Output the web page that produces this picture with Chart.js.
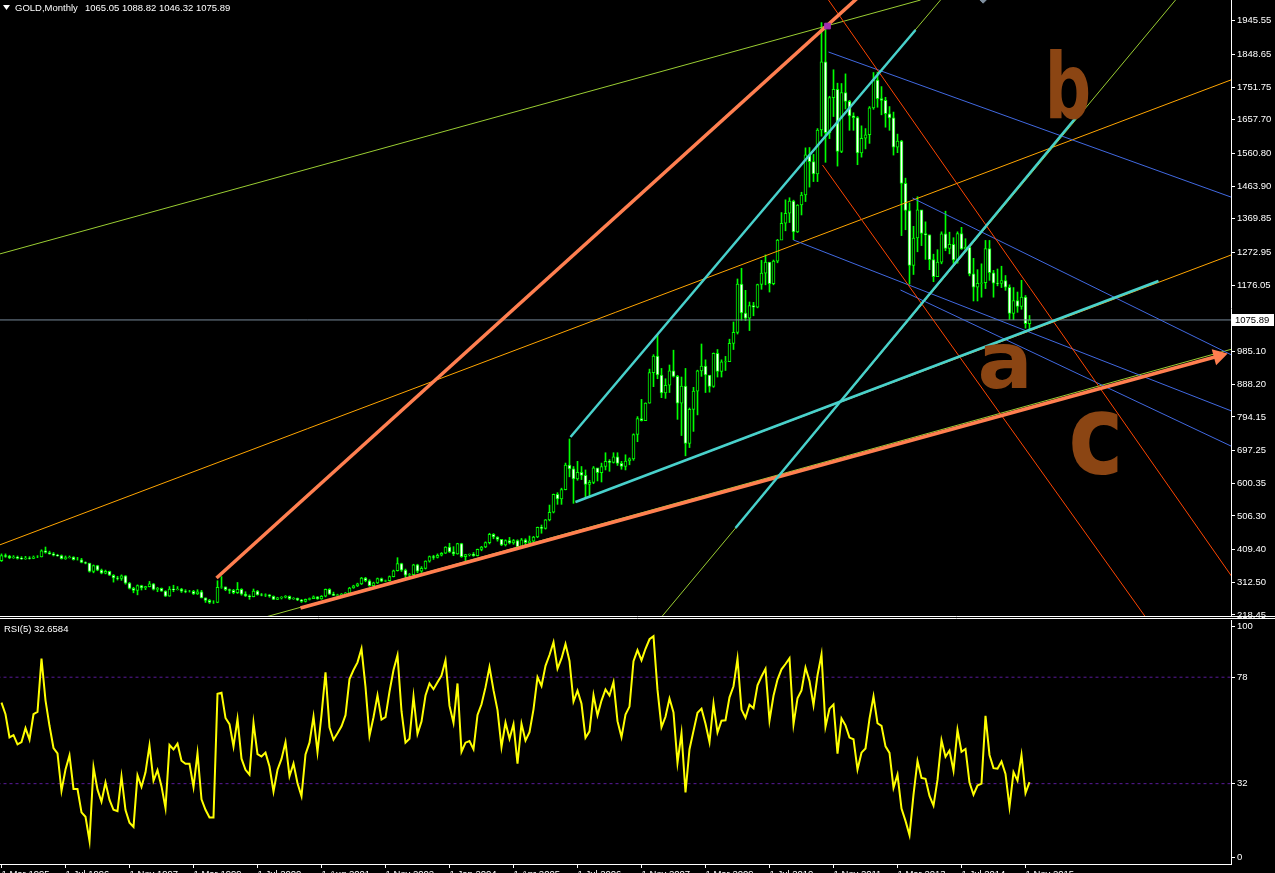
<!DOCTYPE html>
<html>
<head>
<meta charset="utf-8">
<script src="https://cdn.jsdelivr.net/npm/chart.js@4.4.1/dist/chart.umd.min.js"></script>
<style>
html, body { margin: 0; padding: 0; background: #000; overflow: hidden; width: 1275px; height: 873px; }
#main { position: absolute; left: 0; top: 0; }
#rsi { position: absolute; left: 0; top: 617px; }
</style>
</head>
<body>
<canvas id="main" width="1275" height="626"></canvas>
<canvas id="rsi" width="1275" height="280"></canvas>
<script>
// monthly bars, index 0 = 1 Mar 1995
var opens = [376,391,389,385,387,383,382,384,383,387,
387,405,400,396,392,391,382,385,387,379,379,371,
369,345,362,349,340,345,334,326,325,332,311,296,
290,304,297,301,309,293,296,288,273,294,292,294,
288,287,287,280,286,268,261,255,255,299,300,292,
290,283,293,279,274,272,
288,277,276,277,273,264,268,270,273,265,267,262,258,264,266,271,
265,273,293,279,275,277,279,282,297,303,309,326,318,304,312,324,
317,318,330,347,368,349,334,336,364,346,354,375,388,386,392,398,
416,402,396,426,388,394,395,391,409,416,429,453,445,438,422,435,
428,435,417,437,429,433,445,473,470,495,517,569,556,583,654,643,
614,633,624,598,604,646,
632,650,665,662,678,659,650,666,672,743,789,783,
834,923,971,916,864,886,928,912,834,884,717,816,
869,928,942,916,883,979,926,954,955,1008,1040,1180,
1096,1081,1118,1113,1179,1212,1244,1181,1247,1308,1357,1386,
1421,1332,1410,1439,1556,1536,1500,1628,1826,1620,1722,1746,
1566,1737,1711,1669,1664,1561,1604,1614,1692,1773,1719,1714,
1675,1663,1578,1596,1473,1394,1234,1314,1396,1327,1323,1251,
1202,1244,1326,1284,1296,1250,1327,1282,1287,1210,1171,1182,
1184,1283,1213,1183,1182,1190,1171,1095,1132,1115,1142,1065.05];

var highs = [396,396,392,391,390,388,389,388,390,391,
408,416,404,400,395,393,390,390,388,386,383,373,
369,364,363,352,349,346,336,331,335,333,313,299,
306,305,302,316,310,299,297,289,301,305,301,296,
292,290,290,292,290,268,264,260,318,330,300,294,
293,313,295,286,277,294,
290,281,280,278,274,270,272,275,274,269,268,264,265,268,274,272,
275,294,295,285,279,281,284,299,305,311,328,328,321,314,326,326,
320,332,349,385,369,352,339,366,366,359,376,390,392,396,400,417,
427,417,427,427,395,396,400,410,418,431,456,455,446,438,437,444,
438,437,441,440,448,447,474,480,496,538,570,574,587,660,730,650,
665,650,640,610,650,645,
660,690,670,690,690,665,684,675,745,795,845,835,
933,975,1033,935,905,945,988,915,910,935,820,880,
930,1006,960,915,980,990,960,970,1020,1070,1195,1226,
1162,1128,1127,1180,1249,1265,1202,1250,1310,1388,1425,1431,
1424,1411,1447,1576,1577,1557,1632,1940,1920,1726,1803,1764,
1763,1791,1714,1678,1667,1640,1632,1696,1795,1796,1754,1723,
1696,1680,1616,1598,1488,1416,1348,1434,1361,1361,1323,1267,
1280,1332,1392,1331,1315,1332,1345,1312,1288,1255,1222,1239,
1307,1307,1220,1224,1232,1205,1178,1170,1157,1191,1147,1088.82];

var lows = [374,386,382,383,381,380,380,381,382,385,
387,398,395,390,389,381,380,384,378,378,370,367,
343,341,347,338,338,333,314,320,319,308,294,283,
277,291,292,300,291,286,287,272,273,286,291,284,
283,285,278,278,268,255,252,252,254,296,289,281,
280,281,276,272,264,271,
276,274,272,270,263,263,265,268,263,264,260,255,256,262,266,264,
264,271,278,275,273,276,277,281,296,301,307,315,302,303,310,315,
315,317,329,346,345,327,324,335,341,342,352,372,380,384,390,397,
400,391,395,386,375,390,389,390,405,414,425,440,433,420,419,425,
424,414,414,418,425,430,443,456,468,492,515,540,540,582,620,543,
610,612,560,560,600,608,
605,640,636,660,653,642,640,655,668,722,782,784,
834,882,905,850,848,865,910,787,740,681,705,752,
800,912,865,866,880,910,910,929,955,990,1035,1075,
1074,1045,1088,1111,1165,1178,1157,1178,1242,1315,1335,1359,
1309,1330,1381,1420,1462,1478,1478,1610,1534,1603,1667,1523,
1562,1689,1627,1627,1527,1549,1573,1589,1688,1694,1672,1636,
1627,1555,1562,1321,1338,1180,1208,1274,1292,1252,1222,1187,
1202,1239,1277,1268,1240,1241,1281,1275,1204,1131,1131,1142,
1167,1191,1142,1175,1170,1162,1077,1077,1098,1107,1052,1046.32];

var closes = [391,389,385,387,383,382,384,383,387,387,
405,400,396,392,391,382,385,387,379,379,371,369,
345,362,349,340,345,334,326,325,332,311,296,290,
304,297,301,309,293,296,288,273,294,292,294,288,
287,287,280,286,268,261,255,255,299,300,292,290,
283,293,279,274,272,288,
277,276,277,273,264,268,270,273,265,267,262,258,264,266,271,265,
273,293,279,275,277,279,282,297,303,309,326,318,304,312,324,317,
318,330,347,368,349,334,336,364,346,354,375,388,386,392,398,416,
402,396,426,388,394,395,391,409,416,429,453,445,438,422,435,428,
435,417,437,429,433,445,473,470,495,517,569,556,583,654,643,614,
633,624,598,604,646,632,
650,665,662,678,659,650,666,672,743,789,783,834,
923,971,916,864,886,928,912,834,884,717,816,869,
928,942,916,883,979,926,954,955,1008,1040,1180,1096,
1081,1118,1113,1179,1212,1244,1181,1247,1308,1357,1386,1421,
1332,1410,1439,1556,1536,1500,1628,1826,1620,1722,1746,1566,
1737,1711,1669,1664,1561,1604,1614,1692,1773,1719,1714,1675,
1663,1578,1596,1473,1394,1234,1314,1396,1327,1323,1251,1202,
1244,1326,1284,1296,1250,1327,1282,1287,1210,1171,1182,1184,
1283,1213,1183,1182,1190,1171,1095,1132,1115,1142,1065.05,1075.89];

// RSI(5) per bar
var rsiValues = [67,62,52,53,49,50,56,51,62,63,86,68.0,57.0,47.4,45.1,28.9,38.1,44.2,29.7,29.7,19.6,17.7,7.3,39.1,
29.4,24.2,32.5,25.0,20.7,20.1,35.1,20.6,15.1,13.3,35.6,30.6,36.9,48.5,33.2,37.8,30.8,21.4,48.7,46.8,49.3,41.9,40.6,40.6,
30.5,45.1,25.2,20.7,17.4,17.4,70.8,71.3,60.4,57.7,48.1,60.0,42.8,38.0,35.9,58.3,44.8,43.7,45.4,39.4,28.6,38.0,42.7,49.9,
35.2,40.7,32.2,26.6,44.6,49.7,61.0,45.6,61.7,80.1,56.4,51.0,53.8,56.8,61.6,77.2,81.1,84.4,90.3,73.8,52.6,60.7,70.2,59.7,
60.7,71.8,81.1,87.5,63.3,49.7,51.4,69.7,53.5,58.8,70.1,75.3,72.8,75.8,78.7,85.3,65.6,58.3,75.3,45.8,49.7,50.4,46.9,61.7,
66.3,73.6,82.4,72.4,63.8,47.8,58.4,51.4,57.7,40.6,57.9,50.6,54.2,64.1,78.0,74.2,82.9,87.6,93.1,81.7,86.1,92.3,85.0,67.5,
72.2,66.5,51.8,54.6,70.3,61.5,67.9,72.7,70.1,75.9,59.0,52.1,61.9,65.3,84.9,89.7,85.3,90.3,94.4,95.7,72.5,56.4,60.9,68.8,
62.8,41.0,53.8,28.2,46.9,54.8,62.6,64.4,57.9,49.9,66.6,54.1,59.2,59.4,69.3,74.1,86.0,64.0,60.5,66.1,64.6,74.5,78.3,81.6,
59.3,70.0,77.0,81.4,83.7,86.2,57.6,68.9,72.3,82.2,76.4,65.9,78.8,87.8,56.6,64.4,66.2,45.0,60.2,57.2,51.9,51.2,38.1,45.4,
47.2,60.1,69.7,58.1,57.0,48.1,45.3,30.2,35.9,21.2,15.9,9.8,27.3,41.8,34.5,34.1,26.7,22.5,33.6,50.8,43.6,46.3,37.6,55.2,
45.8,47.0,32.5,27.2,31.2,32.0,61.3,44.4,38.7,38.5,41.6,36.2,21.9,37.0,33.3,44.4,27.9,32.66];

var dateLabels = ["1 Mar 1995","1 Jul 1996","1 Nov 1997","1 Mar 1999","1 Jul 2000","1 Aug 2001",
  "1 Nov 2002","1 Jan 2004","1 Apr 2005","1 Jul 2006","1 Nov 2007","1 Mar 2009","1 Jul 2010",
  "1 Nov 2011","1 Mar 2013","1 Jul 2014","1 Nov 2015"];
var priceTicks = [1945.55,1848.65,1751.75,1657.70,1560.80,1463.90,1369.85,1272.95,1176.05,
  985.10,888.20,794.15,697.25,600.35,506.30,409.40,312.50,218.45];
var rsiTicks = [100, 78, 32, 0];
var rsiLevels = [78, 32];
var rsiLast = 32.6584;

// trend lines: [bar index, price] end points
var coralUp = [[53.75, 326], [224.5, 2122]];
var coralLow = [[74.75, 238.8], [304.25, 971.1]];
var greenLow = [[66, 212.6], [315, 1015]];
var greenTop = [[-0.5, 1267.5], [229.75, 2005.6]];
var greenSteep = [[165, 212.6], [293.5, 2005.6]];
var greenChan = [[142.25, 735.7], [234.75, 2005.6]];
var cyanUp = [[142.25, 735.7], [228.5, 1918.5]];
var cyanSteep = [[183.5, 471.3], [268.5, 1662.7]];
var cyanLow = [[143.5, 546.8], [289.25, 1189.0]];
var orangeTop = [[-0.5, 421.9], [310, 1785]];
var orangeLow = [[143.5, 546.8], [310, 1276]];
var redA = [[206.75, 2005.6], [310, 290]];
var redB = [[205.25, 1526.2], [286, 212.6]];
var blueA = [[206.75, 1854.5], [310, 1422]];
var blueB = [[227.75, 1430.2], [310, 960]];
var blueC = [[198, 1308.2], [310, 800]];
var blueD = [[224.75, 1162.9], [310, 695]];
var peakMark = [[206.5, 1930]];
var topMark = [[245.4, 2011]];
var waveText = ["b", "a", "c"];
var waveIdx = [266.6, 250.9, 273.6];
var wavePrice = [1662.7, 878.1, 630];

var FONT = '"Liberation Sans", Arial, sans-serif';

function seg(points, color, width, arrow) {
    return {
        type: 'line',
        data: points.map(function (p) { return {x: p[0], y: p[1]}; }),
        borderColor: color,
        backgroundColor: color,
        borderWidth: width,
        pointRadius: arrow ? [0, 6] : 0,
        pointStyle: 'triangle',
        pointRotation: 74.6,
        tension: 0,
        fill: false,
        clip: 0
    };
}

function marker(points, color, style, size) {
    return {
        type: 'line',
        data: points.map(function (p) { return {x: p[0], y: p[1]}; }),
        showLine: false,
        pointStyle: style,
        pointRadius: size,
        pointBackgroundColor: color,
        pointBorderColor: color,
        clip: 0
    };
}

// no label padding around the axes, MT4 lets labels sit on the edges
function tightY(s) { s.width = 44; s.paddingTop = 0; s.paddingBottom = 0; }
function tightX(s) { s.height = 33; s.paddingLeft = 0; s.paddingRight = 0; }

var wicks = closes.map(function (c, i) { return {x: i, y: [lows[i], highs[i]]}; });
var bodies = closes.map(function (c, i) { return {x: i, y: [opens[i], c]}; });
var bodyFill = closes.map(function (c, i) { return c >= opens[i] ? '#000000' : '#ffffff'; });
var last = closes.length - 1;

var mainDecor = {
    id: 'mainDecor',
    afterDraw: function (chart) {
        var ctx = chart.ctx, area = chart.chartArea, y = chart.scales.y, x = chart.scales.x;
        ctx.save();
        // header
        ctx.fillStyle = '#ffffff';
        ctx.beginPath();
        ctx.moveTo(3, 5); ctx.lineTo(10, 5); ctx.lineTo(6.5, 10); ctx.closePath(); ctx.fill();
        ctx.font = '9.5px ' + FONT;
        ctx.textBaseline = 'alphabetic';
        ctx.fillText('GOLD,Monthly', 15, 10.5);
        ctx.fillText([opens[last], highs[last], lows[last], closes[last]].map(function (v) { return v.toFixed(2); }).join(' '), 85, 10.5);
        // wave marks
        ctx.fillStyle = '#8B4513';
        ctx.textAlign = 'center';
        var sizes = [90, 78, 110], squash = [0.72, 1.05, 0.85];
        for (var i = 0; i < waveText.length; i++) {
            ctx.save();
            ctx.translate(x.getPixelForValue(waveIdx[i]), y.getPixelForValue(wavePrice[i]));
            ctx.scale(squash[i], 1);
            ctx.font = 'bold ' + sizes[i] + 'px "DejaVu Sans", sans-serif';
            ctx.fillText(waveText[i], 0, 0);
            ctx.restore();
        }
        // current price box
        var py = Math.round(y.getPixelForValue(closes[last]));
        ctx.fillStyle = '#ffffff';
        ctx.fillRect(area.right + 1, py - 6, 42, 12);
        ctx.fillStyle = '#000000';
        ctx.textAlign = 'left';
        ctx.textBaseline = 'middle';
        ctx.fillText(closes[last].toFixed(2), area.right + 4, py + 0.5);
        // panel separator
        ctx.strokeStyle = '#ffffff';
        ctx.lineWidth = 1;
        ctx.beginPath();
        ctx.moveTo(0, area.bottom + 0.5); ctx.lineTo(chart.width, area.bottom + 0.5);
        ctx.stroke();
        ctx.restore();
    }
};

new Chart(document.getElementById('main'), {
    type: 'bar',
    data: {
        datasets: [
            marker(peakMark, '#A030B0', 'rect', 4),
            marker(topMark, '#8090A0', 'rectRot', 5),
            seg(cyanUp, '#48D1CC', 2.5),
            seg(cyanSteep, '#48D1CC', 2.5),
            seg(cyanLow, '#48D1CC', 2.5),
            seg(coralUp, '#FF7F50', 3.5),
            seg(coralLow, '#FF7F50', 3.5, true),
            seg(redA, '#FF4500', 1),
            seg(redB, '#FF4500', 1),
            seg(blueA, '#4169E1', 1),
            seg(blueB, '#4169E1', 1),
            seg(blueC, '#4169E1', 1),
            seg(blueD, '#4169E1', 1),
            seg(greenLow, '#9ACD32', 1),
            seg(greenTop, '#9ACD32', 1),
            seg(greenSteep, '#9ACD32', 1),
            seg(greenChan, '#9ACD32', 1),
            seg(orangeTop, '#FFA500', 1),
            seg(orangeLow, '#FFA500', 1),
            seg([[-1, closes[last]], [320, closes[last]]], '#778899', 1),
            {
                type: 'bar', data: bodies, grouped: false, barThickness: 3,
                backgroundColor: bodyFill, borderColor: '#00FF00', borderWidth: 1, borderSkipped: false
            },
            {
                type: 'bar', data: wicks, grouped: false, barThickness: 1,
                backgroundColor: '#00FF00', borderWidth: 0
            }
        ]
    },
    options: {
        responsive: false,
        animation: false,
        events: [],
        layout: { autoPadding: false, padding: { left: 0, right: 0, top: 0, bottom: 10 } },
        plugins: { legend: { display: false }, tooltip: { enabled: false } },
        scales: {
            x: { type: 'linear', min: -0.375, max: 307.375, display: false, offset: false },
            y: {
                position: 'right', min: 215.54, max: 2005.7,
                afterBuildTicks: function (s) { s.ticks = priceTicks.map(function (v) { return {value: v}; }); },
                afterFit: tightY,
                ticks: { color: '#ffffff', padding: 2, font: { family: FONT, size: 9.5 },
                    callback: function (v) { return Number(v).toFixed(2); } },
                grid: { drawOnChartArea: false, tickLength: 4, tickColor: '#ffffff' },
                border: { display: true, color: '#ffffff' }
            }
        }
    },
    plugins: [mainDecor]
});

var rsiDecor = {
    id: 'rsiDecor',
    afterDraw: function (chart) {
        var ctx = chart.ctx;
        ctx.save();
        ctx.strokeStyle = '#ffffff';
        ctx.lineWidth = 1;
        ctx.beginPath();
        ctx.moveTo(0, 1.5); ctx.lineTo(chart.width, 1.5);
        ctx.stroke();
        ctx.fillStyle = '#ffffff';
        ctx.font = '9.5px ' + FONT;
        ctx.fillText('RSI(5) ' + rsiLast.toFixed(4), 4, 15);
        ctx.restore();
    }
};

new Chart(document.getElementById('rsi'), {
    type: 'line',
    data: {
        datasets: [
            {
                data: rsiValues.map(function (v, i) { return {x: i, y: v}; }),
                borderColor: '#FFFF00', borderWidth: 2, pointRadius: 0, tension: 0, fill: false, clip: 0
            }
        ].concat(rsiLevels.map(function (lv) {
            return {
                data: [{x: -1, y: lv}, {x: 320, y: lv}],
                borderColor: '#5A1A9A', borderWidth: 1, borderDash: [3, 3], pointRadius: 0, clip: 0
            };
        }))
    },
    options: {
        responsive: false,
        animation: false,
        events: [],
        layout: { autoPadding: false, padding: { left: 0, right: 0, top: 3, bottom: 0 } },
        plugins: { legend: { display: false }, tooltip: { enabled: false } },
        scales: {
            x: {
                type: 'linear', min: -0.375, max: 307.375, offset: false,
                afterBuildTicks: function (s) { s.ticks = dateLabels.map(function (d, i) { return {value: i * 16}; }); },
                afterFit: tightX,
                ticks: { color: '#ffffff', align: 'start', maxRotation: 0, autoSkip: false, padding: 1,
                    font: { family: FONT, size: 9.5 },
                    callback: function (v) { return dateLabels[Math.round(v / 16)]; } },
                grid: { drawOnChartArea: false, tickLength: 4, tickColor: '#ffffff' },
                border: { display: true, color: '#ffffff' }
            },
            y: {
                position: 'right', min: -2.72, max: 102.72,
                afterBuildTicks: function (s) { s.ticks = rsiTicks.map(function (v) { return {value: v}; }); },
                afterFit: tightY,
                ticks: { color: '#ffffff', padding: 2, font: { family: FONT, size: 9.5 } },
                grid: { drawOnChartArea: false, tickLength: 4, tickColor: '#ffffff' },
                border: { display: true, color: '#ffffff' }
            }
        }
    },
    plugins: [rsiDecor]
});
</script>
</body>
</html>
